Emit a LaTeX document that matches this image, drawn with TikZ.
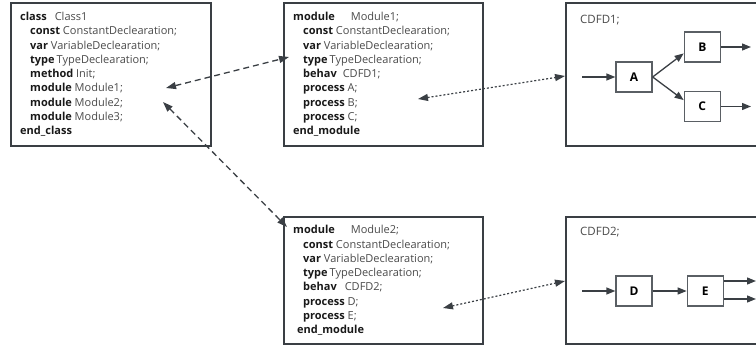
\documentclass[tikz,border=0pt]{standalone}
\usepackage{fontspec}
\setmainfont{Open Sans}
\usepackage{xcolor}
\usetikzlibrary{arrows.meta, positioning}

\definecolor{boxgray}{HTML}{3A3F44}
\definecolor{namegray}{HTML}{4A4A4A}
\definecolor{procgray}{HTML}{5A5F64}

\newcommand{\kw}[1]{\textbf{#1}}
\newcommand{\nm}[1]{\textcolor{namegray}{#1}}
\newcommand{\ind}{\hspace*{10pt}}

\tikzstyle{outerBox} = [draw=boxgray, line width=1.8pt, rectangle,
   anchor=north west, inner sep=0pt]
\tikzstyle{specText} = [align=left, inner sep=0pt, anchor=west,
   font=\fontsize{11}{14.25}\selectfont, text=black!90]
\tikzstyle{procBox} = [draw=procgray, line width=1.3pt, rectangle,
   minimum width=36pt, minimum height=30pt, font=\bfseries\fontsize{12}{14}\selectfont]
\tikzstyle{flow} = [draw=boxgray, line width=1.3pt,
   -{Triangle[length=9pt,width=7pt]}]
\tikzstyle{linkDash} = [draw=boxgray, line width=1.3pt, dash pattern=on 6pt off 4pt,
   {Triangle[length=10pt,width=7pt]}-{Triangle[length=10pt,width=7pt]}]
\tikzstyle{linkDot} = [draw=boxgray, line width=1.2pt, dash pattern=on 2pt off 2pt,
   {Triangle[length=10pt,width=7pt]}-{Triangle[length=10pt,width=7pt]}]

\begin{document}
\begin{tikzpicture}[x=1pt,y=-1pt]
  \useasboundingbox (0,0) rectangle (756,345);
  \clip (0,0) rectangle (756,345);

  % outer boxes
  \node[outerBox, minimum width=200pt, minimum height=143pt] (cls) at (10,2) {};
  \node[outerBox, minimum width=199pt, minimum height=143pt] (mod1) at (283,2) {};
  \node[outerBox, minimum width=199pt, minimum height=127pt] (mod2) at (283,216) {};
  \node[outerBox, minimum width=240pt, minimum height=143pt] (cdfd1) at (565,2) {};
  \node[outerBox, minimum width=240pt, minimum height=127pt] (cdfd2) at (565,216) {};

  % specification texts
  \node[specText, right=10pt of cls.west] (clsT) {%
    \kw{class}\hspace{8pt}\nm{Class1}\\
    \ind\kw{const} \nm{ConstantDeclearation;}\\
    \ind\kw{var} \nm{VariableDeclearation;}\\
    \ind\kw{type}\hspace{2pt}\nm{TypeDeclearation;}\\
    \ind\kw{method} \nm{Init;}\\
    \ind\kw{module} \nm{Module1;}\\
    \ind\kw{module} \nm{Module2;}\\
    \ind\kw{module} \nm{Module3;}\\
    \kw{end\_class}};
  \node[specText, right=10pt of mod1.west] (mod1T) {%
    \kw{module}\hspace{16pt}\nm{Module1;}\\
    \ind\kw{const} \nm{ConstantDeclearation;}\\
    \ind\kw{var} \nm{VariableDeclearation;}\\
    \ind\kw{type}\hspace{2pt}\nm{TypeDeclearation;}\\
    \ind\kw{behav}\hspace{6pt}\nm{CDFD1;}\\
    \ind\kw{process} \nm{A;}\\
    \ind\kw{process} \nm{B;}\\
    \ind\kw{process} \nm{C;}\\
    \kw{end\_module}};
  \node[specText, right=10pt of mod2.west] (mod2T) {%
    \kw{module}\hspace{16pt}\nm{Module2;}\\
    \ind\kw{const} \nm{ConstantDeclearation;}\\
    \ind\kw{var} \nm{VariableDeclearation;}\\
    \ind\kw{type}\hspace{2pt}\nm{TypeDeclearation;}\\
    \ind\kw{behav}\hspace{8pt}\nm{CDFD2;}\\
    \ind\kw{process} \nm{D;}\\
    \ind\kw{process} \nm{E;}\\
    \hspace*{4pt}\kw{end\_module}};

  % CDFD1
  \node[anchor=west, inner sep=0pt, text=namegray, font=\fontsize{11.5}{14}\selectfont] (lab1) at (580,20) {CDFD1;};
  \node[procBox] (A) at (634,77) {A};
  \node[procBox, right=31pt of A, yshift=30pt] (B) {B};
  \node[procBox, right=31pt of A, yshift=-29.5pt] (C) {C};
  \coordinate (inA) at (582,77);
  \coordinate (outB) at (751,47);
  \coordinate (outC) at (751,106.5);
  \draw[flow] (inA) -- (A);
  \draw[flow] (A.east) -- (B.199);
  \draw[flow] (A.east) -- (C.161);
  \draw[flow] (B) -- (outB);
  \draw[flow] (C) -- (outC);

  % CDFD2
  \node[anchor=west, inner sep=0pt, text=namegray, font=\fontsize{11.5}{14}\selectfont] (lab2) at (580,232) {CDFD2;};
  \node[procBox] (D) at (634,291) {D};
  \node[procBox, right=34pt of D] (E) {E};
  \coordinate (inD) at (582,291);
  \coordinate (outE1) at (756,281);
  \coordinate (outE2) at (756,299);
  \draw[flow] (inD) -- (D);
  \draw[flow] (D) -- (E);
  \draw[flow] (E.east |- outE1) -- (outE1);
  \draw[flow] (E.east |- outE2) -- (outE2);

  % links between the parts
  \coordinate (c1) at (166,88);
  \coordinate (m1) at (289,57);
  \coordinate (c2) at (163,102);
  \coordinate (m2) at (287,227);
  \coordinate (m1b) at (418,99);
  \coordinate (d1) at (565,76);
  \coordinate (m2b) at (443,308);
  \coordinate (d2) at (565,281);
  \draw[linkDash] (c1) -- (m1);
  \draw[linkDash] (c2) -- (m2);
  \draw[linkDot] (m1b) -- (d1);
  \draw[linkDot] (m2b) -- (d2);
\end{tikzpicture}
\end{document}
